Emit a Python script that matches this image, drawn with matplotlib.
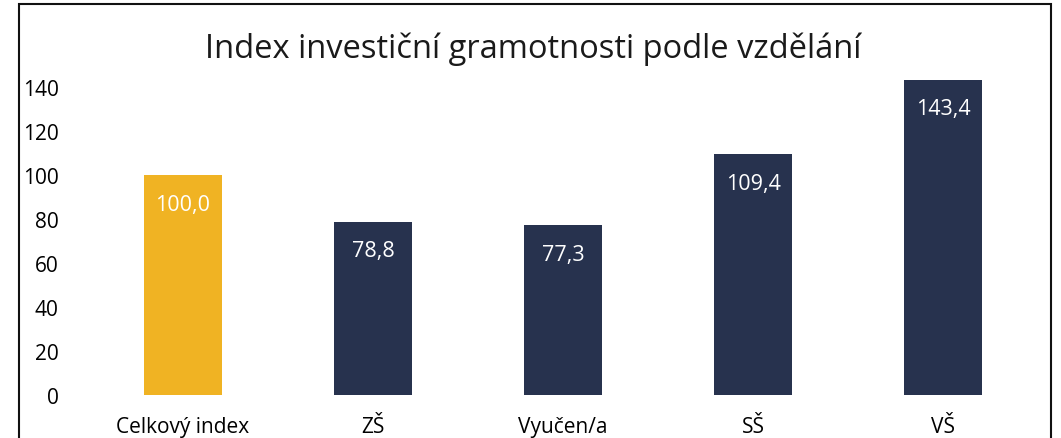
import numpy as np
import matplotlib
matplotlib.use("Agg")
import matplotlib.pyplot as plt
from matplotlib.patches import Rectangle

plt.rcParams['font.family'] = ['Open Sans', 'DejaVu Sans']

# data
categories = ["Celkový index", "ZŠ", "Vyučen/a", "SŠ", "VŠ"]
values = [100.0, 78.8, 77.3, 109.4, 143.4]
bar_colors = ["#F0B323", "#27324E", "#27324E", "#27324E", "#27324E"]
yticks = [0, 20, 40, 60, 80, 100, 120, 140]

W, H = 1061, 439
fig = plt.figure(figsize=(W / 100, H / 100), dpi=100)
ax = fig.add_axes([88 / W, (H - 396) / H, (1038 - 88) / W, 330 / H])

x = np.arange(len(categories))
bars = ax.bar(x, values, width=0.41, color=bar_colors)

ax.set_xlim(-0.5, len(categories) - 0.5)
ax.set_ylim(0, 150)
ax.set_yticks(yticks)
ax.set_xticks(x)
ax.set_xticklabels(categories)
ax.tick_params(axis='y', length=0, pad=21, labelsize=15)
ax.tick_params(axis='x', length=0, pad=15, labelsize=15)
for s in ax.spines.values():
    s.set_visible(False)

# value labels inside bars, near the top
for xi, v in zip(x, values):
    ax.annotate("{0:.1f}".format(v).replace(".", ","), (xi, v),
                xytext=(0, -21), textcoords='offset points',
                ha='center', va='center', color='white', fontsize=15.5)

fig.text(533 / W, 1 - 49 / H, "Index investiční gramotnosti podle vzdělání",
         ha='center', va='center', fontsize=23.5, color='#1a1a1a')

# chart frame (bottom edge is outside the image)
fig.patches.append(Rectangle((19 / W, -0.05), (1051 - 19) / W, 1.05 - 5 / H,
                             transform=fig.transFigure, fill=False,
                             edgecolor='#111111', linewidth=1.5))

fig.savefig("out.png", dpi=100)
